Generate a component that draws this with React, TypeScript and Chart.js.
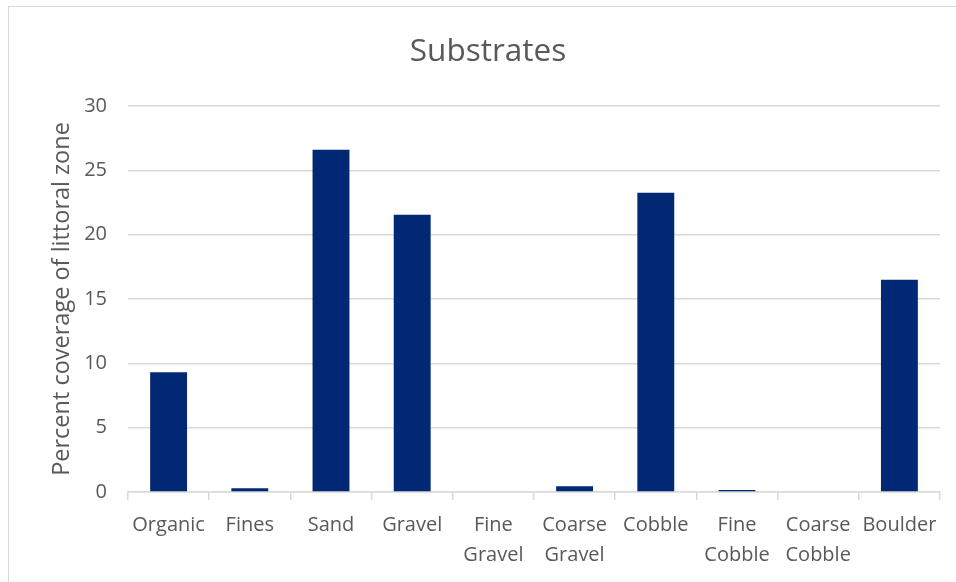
import React, { useEffect, useRef } from "react";
import { Chart, registerables } from "chart.js";

Chart.register(...registerables);

const categories: (string | string[])[] = [
  "Organic",
  "Fines",
  "Sand",
  "Gravel",
  ["Fine", "Gravel"],
  ["Coarse", "Gravel"],
  "Cobble",
  ["Fine", "Cobble"],
  ["Coarse", "Cobble"],
  "Boulder",
];
const coverage: number[] = [9.3, 0.3, 26.6, 21.55, 0, 0.45, 23.25, 0.15, 0, 16.5];
const chartTitle = "Substrates";
const yAxisTitle = "Percent coverage of littoral zone";
const yMin = 0;
const yMax = 30;
const yStep = 5;

const TEXT = "#595959";
const GRID = "#d9d9d9";
const BAR = "#002874";
const FONT = "'Open Sans', 'DejaVu Sans', sans-serif";

export default function App() {
  const ref = useRef<HTMLCanvasElement | null>(null);

  useEffect(() => {
    if (!ref.current) return;
    const chart = new Chart(ref.current, {
      type: "bar",
      data: {
        labels: categories,
        datasets: [
          {
            data: coverage,
            backgroundColor: BAR,
            borderWidth: 0,
            barPercentage: 0.4545,
            categoryPercentage: 1,
          },
        ],
      },
      options: {
        responsive: false,
        animation: false,
        devicePixelRatio: 1,
        layout: { padding: { left: 27, right: 19, top: 0, bottom: 0 } },
        plugins: {
          legend: { display: false },
          tooltip: { enabled: false },
          title: {
            display: true,
            text: chartTitle,
            color: TEXT,
            font: { family: FONT, size: 31.5, weight: "normal", lineHeight: 1.2 },
            padding: { top: 26, bottom: 35.2 },
          },
        },
        scales: {
          x: {
            grid: {
              display: true,
              drawOnChartArea: false,
              drawTicks: true,
              tickLength: 8,
              color: GRID,
              lineWidth: 1.5,
              offset: true,
            },
            border: { display: true, color: GRID, width: 1.5 },
            ticks: {
              color: TEXT,
              font: { family: FONT, size: 20, lineHeight: 1.5 },
              padding: 10,
              maxRotation: 0,
              autoSkip: false,
            },
            afterFit: (scale: any) => {
              scale.height = 113;
            },
          },
          y: {
            min: yMin,
            max: yMax,
            grid: { color: GRID, lineWidth: 1.5, drawTicks: false },
            border: { display: false },
            ticks: {
              stepSize: yStep,
              color: TEXT,
              font: { family: FONT, size: 20 },
              padding: 21,
            },
            title: {
              display: true,
              text: yAxisTitle,
              color: TEXT,
              font: { family: FONT, size: 23.5, lineHeight: 1.2 },
              padding: { top: 12, bottom: 0 },
            },
            afterFit: (scale: any) => {
              scale.width = 92;
            },
          },
        },
      },
    });
    return () => chart.destroy();
  }, []);

  return (
    <div
      style={{
        position: "fixed",
        left: 8,
        top: 6,
        width: 950,
        height: 598,
        border: `1px solid ${GRID}`,
        background: "#fff",
      }}
    >
      <canvas ref={ref} width={950} height={598} style={{ width: 950, height: 598, display: "block" }} />
    </div>
  );
}
